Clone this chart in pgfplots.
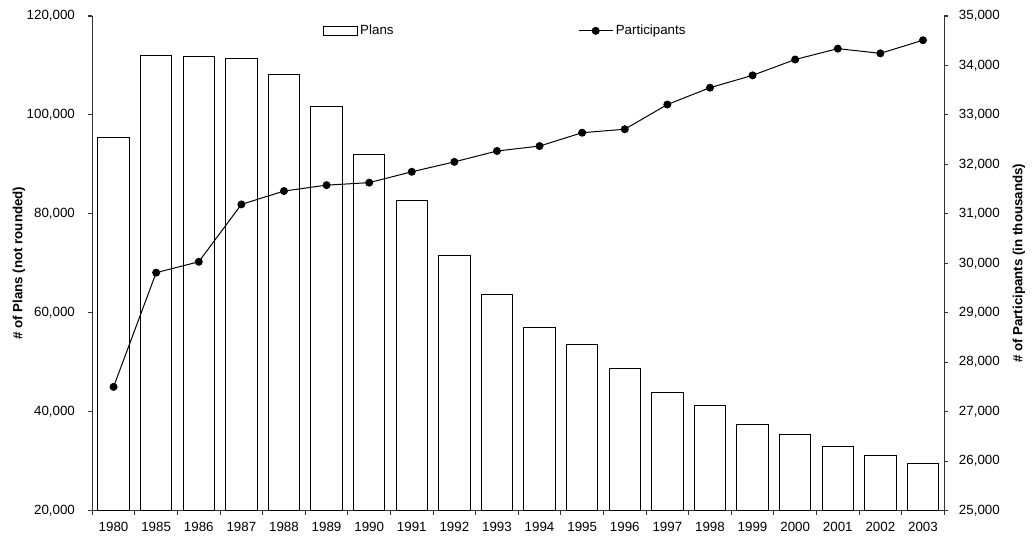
\documentclass[border=0pt]{standalone}
\usepackage{fontspec}
\setmainfont{Liberation Sans}
\usepackage{pgfplots}
\usepackage{pgfplotstable}
\pgfplotsset{compat=1.18}

% Private pension plans and participants, 1980-2003
\pgfplotstableread{
idx year plans participants
0  1980 95500  27500
1  1985 112100 29810
2  1986 111900 30030
3  1987 111400 31190
4  1988 108100 31460
5  1989 101800 31580
6  1990 91900  31630
7  1991 82600  31850
8  1992 71500  32050
9  1993 63600  32270
10 1994 57000  32370
11 1995 53600  32640
12 1996 48700  32710
13 1997 43800  33210
14 1998 41300  33550
15 1999 37400  33800
16 2000 35300  34120
17 2001 33000  34340
18 2002 31200  34245
19 2003 29500  34510
}\datatable

\pgfplotsset{
  common/.style={
    at={(0pt,0pt)}, anchor=south west,
    scale only axis, width=639pt, height=370.9pt,
    xmin=-0.5, xmax=19.5,
    tick align=outside,
    major tick length=3pt,
    axis line style={black!80, line width=0.9pt},
    tick style={black!80, line width=0.8pt},
    tick label style={font=\fontsize{10}{12}\selectfont},
    scaled y ticks=false,
    /pgf/number format/.cd, assume math mode=true, fixed, 1000 sep={,},
  },
  plansleg/.style={legend image code/.code={\draw[##1] (0pt,-3.4pt) rectangle (25.5pt,3.4pt);}},
  partleg/.style={legend image code/.code={\draw[mark repeat=2, mark phase=2, ##1] plot coordinates {(0pt,0pt) (12.75pt,0pt) (25.5pt,0pt)};}},
}

\begin{document}
\begin{tikzpicture}
\path[use as bounding box] (-69.2pt,-19.1pt) rectangle (707.8pt,382.9pt);

% Left axis: number of plans (bars)
\begin{axis}[
  common,
  ymin=20000, ymax=120000,
  ytick={20000,40000,...,120000},
  yticklabel style={xshift=-6.5pt},
  xticklabel style={yshift=-2.2pt},
  axis x line*=bottom, axis y line*=left,
  xtick={-0.5,0.5,...,19.5},
  x tick label as interval,
  xticklabels={1980,1985,1986,1987,1988,1989,1990,1991,1992,1993,1994,1995,1996,1997,1998,1999,2000,2001,2002,2003},
  every axis y label/.style={at={(axis description cs:-0.086,0.5)}, rotate=90, anchor=center,
    font=\fontsize{10}{12}\selectfont\bfseries},
  ylabel={\# of Plans (not rounded)},
  ybar, bar width=0.74, bar shift=0pt,
  legend style={at={(axis description cs:0.270,0.970)}, anchor=west,
    draw=none, fill=none, inner sep=0pt, font=\fontsize{10}{12}\selectfont},
]
\addplot[draw=black, fill=white, line width=0.75pt, plansleg]
  table[x=idx, y=plans]{\datatable};
\addlegendentry{Plans}
\end{axis}

% Right axis: participants (line)
\begin{axis}[
  common,
  ymin=25000, ymax=35000,
  ytick={25000,26000,...,35000},
  yticklabel style={xshift=4.5pt},
  axis x line=none, axis y line*=right,
  every axis y label/.style={at={(axis description cs:1.0877,0.5)}, rotate=90, anchor=center,
    font=\fontsize{10}{12}\selectfont\bfseries},
  ylabel={\# of Participants (in thousands)},
  legend style={at={(axis description cs:0.570,0.970)}, anchor=west,
    draw=none, fill=none, inner sep=0pt, font=\fontsize{10}{12}\selectfont},
]
\addplot[black, line width=0.75pt, mark=*, mark size=2.6pt, partleg]
  table[x=idx, y=participants]{\datatable};
\addlegendentry{Participants}
\end{axis}
\end{tikzpicture}
\end{document}
